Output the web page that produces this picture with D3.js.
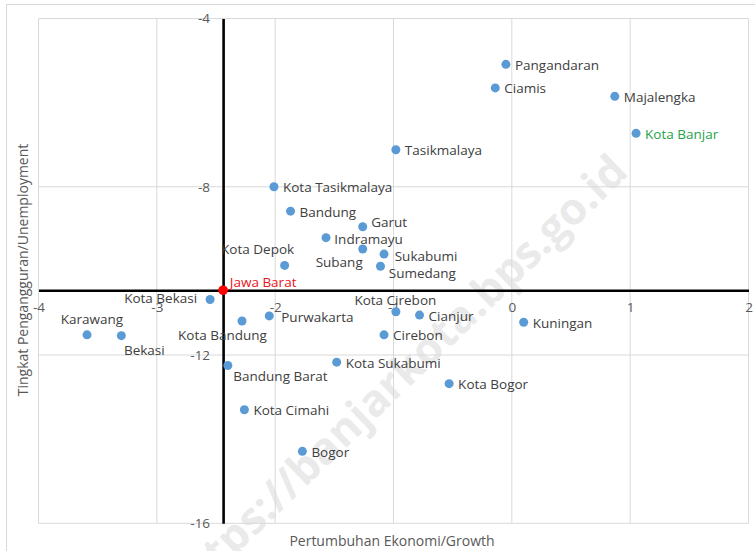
<!DOCTYPE html>
<html>
<head>
<meta charset="utf-8">
<script src="https://cdn.jsdelivr.net/npm/d3@7"></script>
<style>
  html, body { margin: 0; padding: 0; background: #fff; }
  svg { display: block; font-family: "Open Sans", "Noto Sans", sans-serif; }
</style>
</head>
<body>
<svg id="chart" width="755" height="551"></svg>
<script>
// Kabupaten/kota of Jawa Barat: economic growth (%) vs. unemployment rate (plotted negative)
const regions = [
  "Bogor", "Sukabumi", "Cianjur", "Bandung", "Garut", "Tasikmalaya", "Ciamis",
  "Kuningan", "Cirebon", "Majalengka", "Sumedang", "Indramayu", "Subang",
  "Purwakarta", "Karawang", "Bekasi", "Bandung Barat", "Pangandaran",
  "Kota Bogor", "Kota Sukabumi", "Kota Bandung", "Kota Cirebon", "Kota Bekasi",
  "Kota Depok", "Kota Cimahi", "Kota Tasikmalaya", "Kota Banjar"
];
const growth = [
  -1.77, -1.08, -0.78, -1.87, -1.26, -0.98, -0.14,
  0.10, -1.08, 0.87, -1.11, -1.57, -1.26,
  -2.05, -3.59, -3.30, -2.40, -0.05,
  -0.53, -1.48, -2.28, -0.98, -2.55,
  -1.92, -2.26, -2.01, 1.05
];
const unemployment = [
  -14.29, -9.60, -11.05, -8.58, -8.95, -7.12, -5.65,
  -11.22, -11.52, -5.85, -9.89, -9.21, -9.48,
  -11.07, -11.52, -11.54, -12.25, -5.09,
  -12.68, -12.17, -11.19, -10.97, -10.68,
  -9.87, -13.30, -8.00, -6.73
];
const province = { name: "Jawa Barat", growth: -2.44, unemployment: -10.46 };

const xTicks = [-4, -3, -2, -1, 0, 1, 2];
const yTicks = [-4, -8, -12, -16];

const xTitle = "Pertumbuhan Ekonomi/Growth";
const yTitle = "Tingkat Pengangguran/Unemployment";
const watermark = "https://banjarkota.bps.go.id";

// label placement around each marker (default: to the right)
const labelPlacement = {
  "Karawang":      { anchor: "middle", dx: 5,   dy: -15.5 },
  "Bekasi":        { anchor: "middle", dx: 23,  dy: 14 },
  "Kota Bekasi":   { anchor: "end",    dx: -13, dy: -2 },
  "Kota Bandung":  { anchor: "middle", dx: -19.5, dy: 14 },
  "Bandung Barat": { anchor: "start",  dx: 5.5, dy: 10 },
  "Kota Cirebon":  { anchor: "middle", dx: -0.5, dy: -11.7 },
  "Kota Depok":    { anchor: "middle", dx: -27, dy: -16 },
  "Subang":        { anchor: "end",    dx: 0,   dy: 12.7 },
  "Sumedang":      { anchor: "start",  dx: 8.3, dy: 6.6 },
  "Sukabumi":      { anchor: "start",  dx: 10.7, dy: 1.7 },
  "Garut":         { anchor: "start",  dx: 8.4, dy: -4.6 },
  "Indramayu":     { anchor: "start",  dx: 8.3, dy: 1 },
  "Purwakarta":    { anchor: "start",  dx: 12,  dy: 1.3 },
  "Jawa Barat":    { anchor: "start",  dx: 6.7, dy: -8.7 }
};
const defaultPlacement = { anchor: "start", dx: 9, dy: 0.5 };
const labelColors = { "Kota Banjar": "#1fa34a", "Jawa Barat": "#e8161e" };

const svg = d3.select("#chart");
const plot = { left: 38.5, right: 748.5, top: 18.5, bottom: 523.3 };

const x = d3.scaleLinear().domain([-4, 2]).range([plot.left, plot.right]);
const y = d3.scaleLinear().domain([-16, -4]).range([plot.bottom, plot.top]);

// chart frame
svg.append("rect")
  .attr("x", 6.5).attr("y", 4.5).attr("width", 800).attr("height", 600)
  .attr("fill", "#fff").attr("stroke", "#d9d9d9").attr("stroke-width", 1);

// watermark
svg.append("text")
  .attr("transform", "translate(630,174) rotate(-44)")
  .attr("text-anchor", "end")
  .attr("font-size", 44)
  .attr("font-weight", 700)
  .attr("fill", "#d6d6d6")
  .attr("fill-opacity", 0.5)
  .text(watermark);

// gridlines
const grid = svg.append("g").attr("stroke", "#d9d9d9").attr("stroke-width", 1);
grid.selectAll(".gx").data(xTicks).join("line")
  .attr("x1", d => x(d)).attr("x2", d => x(d))
  .attr("y1", y(-4)).attr("y2", y(-16));
grid.selectAll(".gy").data(yTicks).join("line")
  .attr("x1", x(-4)).attr("x2", x(2))
  .attr("y1", d => y(d)).attr("y2", d => y(d));

// axes crossing at the provincial values
const cx = x(province.growth), cy = y(province.unemployment);
const xAxis = d3.axisBottom(x).tickValues(xTicks).tickSize(0).tickPadding(12).tickFormat(d3.format("d"));
const yAxis = d3.axisLeft(y).tickValues(yTicks).tickSize(0).tickPadding(13).tickFormat(d3.format("d"));

const gx = svg.append("g").attr("transform", `translate(0,${cy})`).call(xAxis);
const gy = svg.append("g").attr("transform", `translate(${cx},0)`).call(yAxis);
[gx, gy].forEach(g => {
  g.select(".domain").attr("stroke", "#000").attr("stroke-width", 2.6);
  g.selectAll(".tick text")
    .attr("fill", "#595959")
    .attr("font-size", 13.5)
    .attr("font-family", "\"Open Sans\", sans-serif")
    .text(d => d < 0 ? "-" + Math.abs(d) : d);
});

// axis titles
svg.append("text")
  .attr("x", 392).attr("y", 546)
  .attr("text-anchor", "middle")
  .attr("font-size", 14).attr("fill", "#595959")
  .text(xTitle);
svg.append("text")
  .attr("transform", "translate(28,270) rotate(-90)")
  .attr("text-anchor", "middle")
  .attr("font-size", 14).attr("fill", "#595959")
  .text(yTitle);

// markers and labels
const points = regions.map((name, i) => ({ name, growth: growth[i], unemployment: unemployment[i] }));
points.push(province);

const marks = svg.append("g");
marks.selectAll("circle").data(points).join("circle")
  .attr("cx", d => x(d.growth))
  .attr("cy", d => y(d.unemployment))
  .attr("r", d => d === province ? 4.8 : 4.5)
  .attr("fill", d => d === province ? "#ff0000" : "#5b9bd5");

marks.selectAll("text").data(points).join("text")
  .each(function(d) {
    const p = labelPlacement[d.name] || defaultPlacement;
    d3.select(this)
      .attr("x", x(d.growth) + p.dx)
      .attr("y", y(d.unemployment) + p.dy)
      .attr("text-anchor", p.anchor);
  })
  .attr("dominant-baseline", "central")
  .attr("font-size", 13.5)
  .attr("fill", d => labelColors[d.name] || "#404040")
  .text(d => d.name);
</script>
</body>
</html>
